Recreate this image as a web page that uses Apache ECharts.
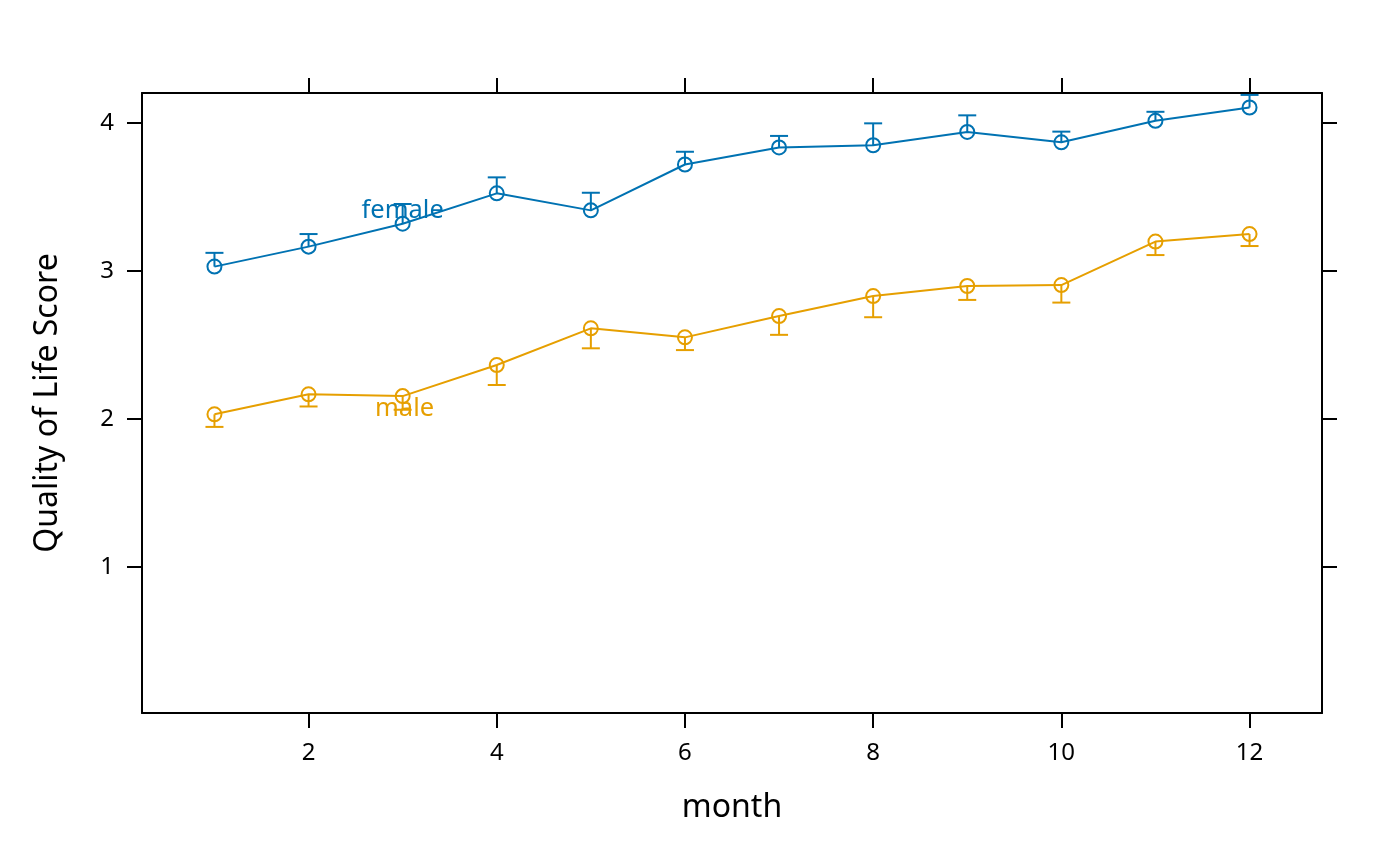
<!DOCTYPE html>
<html>
<head>
<meta charset="utf-8">
<script src="https://cdn.jsdelivr.net/npm/echarts@6/dist/echarts.min.js"></script>
<style>
  html, body { margin: 0; padding: 0; background: #fff; }
  #chart { width: 1400px; height: 866px; }
</style>
</head>
<body>
<div id="chart"></div>
<script>
// 数据
const months = [1, 2, 3, 4, 5, 6, 7, 8, 9, 10, 11, 12]
const femaleMean  = [3.03, 3.165, 3.32, 3.525, 3.41, 3.72, 3.835, 3.85, 3.94, 3.87, 4.015, 4.105]
const femaleUpper = [3.123, 3.25, 3.453, 3.633, 3.529, 3.806, 3.913, 3.998, 4.052, 3.942, 4.076, 4.19]
const maleMean    = [2.032, 2.167, 2.155, 2.365, 2.613, 2.552, 2.696, 2.831, 2.899, 2.905, 3.199, 3.25]
const maleLower   = [1.947, 2.085, 2.063, 2.23, 2.478, 2.466, 2.569, 2.688, 2.805, 2.787, 3.108, 3.169]
const xTicks = [2, 4, 6, 8, 10, 12]
const yTicks = [1, 2, 3, 4]
const groupNames = ['female', 'male']
const groupLabelX = [3.0, 3.02]
const groupLabelY = [3.405, 2.072]

const FEMALE = '#0072B2'
const MALE = '#E69F00'
const FONT = 'Noto Sans'
const groupColors = [FEMALE, MALE]

const pairs = (xs, ys) => xs.map((x, i) => [x, ys[i]])

// 误差线 (竖线 + 横帽)
const errorBar = (color, ends, means) => ({
  type: 'custom',
  clip: false,
  silent: true,
  z: 3,
  data: months.map((m, i) => [m, means[i], ends[i]]),
  renderItem: (params, api) => {
    const p0 = api.coord([api.value(0), api.value(1)])
    const p1 = api.coord([api.value(0), api.value(2)])
    const half = 9
    const style = { stroke: color, lineWidth: 2 }
    return {
      type: 'group',
      children: [
        { type: 'line', shape: { x1: p0[0], y1: p0[1], x2: p1[0], y2: p1[1] }, style },
        { type: 'line', shape: { x1: p1[0] - half, y1: p1[1], x2: p1[0] + half, y2: p1[1] }, style }
      ]
    }
  }
})

const lineSeries = (name, color, ys) => ({
  name,
  type: 'line',
  data: pairs(months, ys),
  symbol: 'circle',
  symbolSize: 14,
  showAllSymbol: true,
  z: 4,
  lineStyle: { color, width: 2 },
  itemStyle: { color: 'rgba(0,0,0,0)', borderColor: color, borderWidth: 2 },
  emphasis: { disabled: true }
})

const axisBase = {
  type: 'value',
  splitLine: { show: false },
  axisLine: { show: true, onZero: false, lineStyle: { color: '#000', width: 2 } },
  axisTick: { show: true, inside: false, length: 15, lineStyle: { color: '#000', width: 2 } }
}

const option = {
  animation: false,
  backgroundColor: '#fff',
  textStyle: { fontFamily: FONT },
  grid: { left: 142, right: 78, top: 93, bottom: 153 },
  xAxis: [
    {
      ...axisBase,
      position: 'bottom',
      min: 0.23,
      max: 12.77,
      name: 'month',
      nameLocation: 'middle',
      nameGap: 79,
      nameTextStyle: { fontSize: 32, color: '#000', fontFamily: FONT },
      axisTick: { ...axisBase.axisTick, customValues: xTicks },
      axisLabel: { customValues: xTicks, fontSize: 24, color: '#000', margin: 28, fontFamily: FONT }
    },
    {
      ...axisBase,
      position: 'top',
      min: 0.23,
      max: 12.77,
      axisTick: { ...axisBase.axisTick, customValues: xTicks },
      axisLabel: { show: false }
    }
  ],
  yAxis: [
    {
      ...axisBase,
      position: 'left',
      min: 0.014,
      max: 4.203,
      name: 'Quality of Life Score',
      nameLocation: 'middle',
      nameGap: 78,
      nameTextStyle: { fontSize: 32, color: '#000', fontFamily: FONT },
      axisTick: { ...axisBase.axisTick, customValues: yTicks },
      axisLabel: { customValues: yTicks, fontSize: 24, color: '#000', margin: 28, fontFamily: FONT }
    },
    {
      ...axisBase,
      position: 'right',
      min: 0.014,
      max: 4.203,
      axisTick: { ...axisBase.axisTick, customValues: yTicks },
      axisLabel: { show: false }
    }
  ],
  series: [
    errorBar(FEMALE, femaleUpper, femaleMean),
    errorBar(MALE, maleLower, maleMean),
    lineSeries('female', FEMALE, femaleMean),
    lineSeries('male', MALE, maleMean),
    {
      // 组名标签
      type: 'custom',
      silent: true,
      clip: false,
      z: 5,
      data: groupNames.map((n, i) => [groupLabelX[i], groupLabelY[i], i]),
      renderItem: (params, api) => {
        const p = api.coord([api.value(0), api.value(1)])
        const i = api.value(2)
        return {
          type: 'text',
          x: p[0],
          y: p[1],
          style: {
            text: groupNames[i],
            fill: groupColors[i],
            font: '25.5px "Noto Sans"',
            align: 'center',
            verticalAlign: 'middle'
          }
        }
      }
    }
  ]
}

const chart = echarts.init(document.getElementById('chart'))
chart.setOption(option)
window.addEventListener('resize', function () {
  chart.resize()
})
</script>
</body>
</html>
